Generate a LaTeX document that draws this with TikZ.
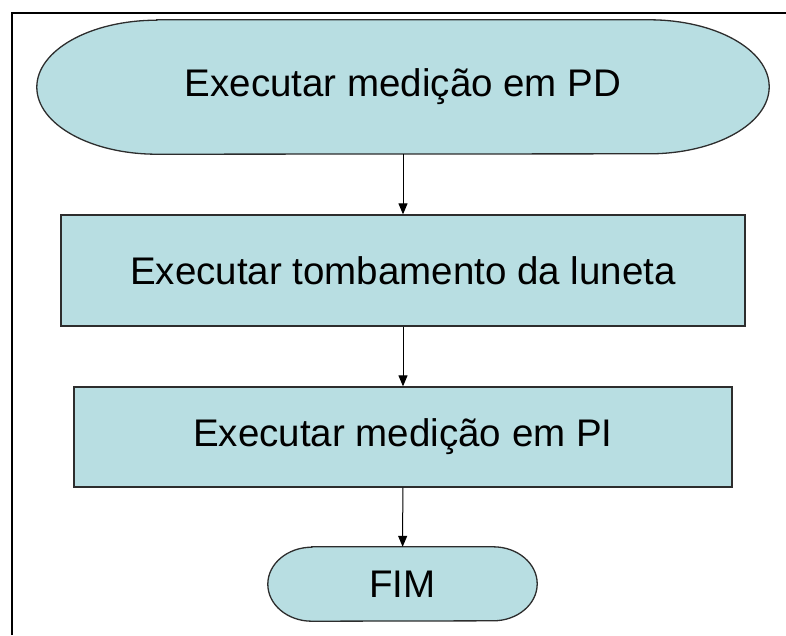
\documentclass[tikz,border=0pt]{standalone}
\usepackage{fontspec}
\setmainfont{Liberation Sans}
\usetikzlibrary{arrows.meta,backgrounds}
\definecolor{boxfill}{RGB}{184,222,226}
\definecolor{boxline}{RGB}{45,45,45}

\tikzset{
  stepbox/.style={draw=boxline,fill=boxfill,line width=1.3pt,inner sep=0pt},
  termtext/.style={inner sep=0pt},
  termline/.style={draw=boxline,fill=boxfill,line width=1.3pt},
  flow/.style={->,line width=1pt}
}

\begin{document}
\begin{tikzpicture}[x=1pt,y=-1pt,>={Triangle[length=11pt,width=9pt]},font=\fontsize{38.5}{44}\selectfont]
\useasboundingbox (0,0) rectangle (786,635);
\draw[line width=2.5pt] (12,635) -- (12,13) -- (786,13);
\node[termtext,minimum width=732pt,minimum height=134pt] (pd) at (403,87) {Executar medição em PD};
\node[stepbox,minimum width=684pt,minimum height=111pt] (tomb) at (403,270.5) {Executar tombamento da luneta};
\node[stepbox,minimum width=658pt,minimum height=100pt] (pi) at (403,437) {Executar medição em PI};
\node[termtext,minimum width=269pt,minimum height=74pt] (fim) at (402.5,584) {FIM};
\begin{scope}[on background layer]
\path[termline] ([xshift=120pt]pd.north west) -- ([xshift=-120pt]pd.north east)
  arc[start angle=90,end angle=-90,x radius=120pt,y radius=67pt]
  -- ([xshift=120pt]pd.south west)
  arc[start angle=270,end angle=90,x radius=120pt,y radius=67pt] -- cycle;
\path[termline] ([xshift=44pt]fim.north west) -- ([xshift=-44pt]fim.north east)
  arc[start angle=90,end angle=-90,x radius=44pt,y radius=37pt]
  -- ([xshift=44pt]fim.south west)
  arc[start angle=270,end angle=90,x radius=44pt,y radius=37pt] -- cycle;
\end{scope}
\draw[flow] (pd) -- (tomb);
\draw[flow] (tomb) -- (pi);
\draw[flow] (pi) -- (fim);
\end{tikzpicture}
\end{document}
